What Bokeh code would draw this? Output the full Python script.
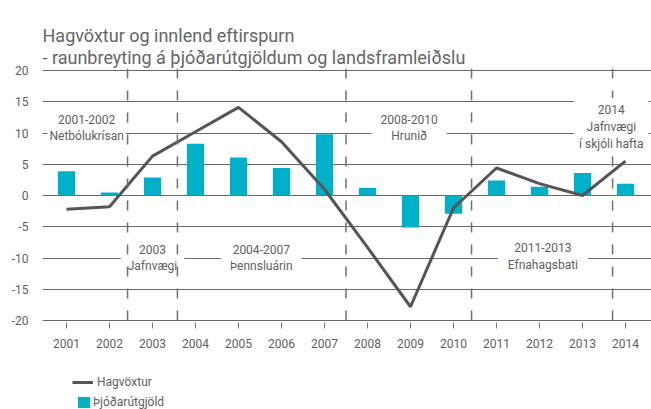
from bokeh.plotting import figure
from bokeh.layouts import column
from bokeh.models import (Range1d, FixedTicker, Label, Span, Legend, LegendItem, Title)
from bokeh.embed import file_html
from bokeh.resources import INLINE

# ---- data ----
years = [2001, 2002, 2003, 2004, 2005, 2006, 2007, 2008, 2009, 2010, 2011, 2012, 2013, 2014]
year_labels = [str(y) for y in years]
hagvoxtur = [-2.2, -1.8, 6.3, 10.2, 14.1, 8.6, 1.0, -8.3, -17.8, -2.0, 4.4, 1.9, 0.0, 5.5]
thjodarutgjold = [3.9, 0.5, 2.9, 8.3, 6.1, 4.4, 9.8, 1.2, -5.1, -2.9, 2.4, 1.4, 3.6, 1.9]
y_ticks = [-20, -15, -10, -5, 0, 5, 10, 15, 20]
y_tick_labels = ["-20", "-15", "-10", "-5", "0", "5", "10", "15", "20"]
period_bounds = [2002.42, 2003.58, 2007.5, 2010.42, 2013.7]
period_texts = ["2001-2002\nNetbólukrísan", "2003\nJafnvægi", "2004-2007\nÞennsluárin",
                "2008-2010\nHrunið", "2011-2013\nEfnahagsbati", "2014\nJafnvægi\ní skjóli hafta"]
period_x = [2001.47, 2003.0, 2005.53, 2008.97, 2012.08, 2013.67]
period_y = [10.8, -10.0, -10.0, 10.8, -9.7, 11.0]
title1 = "Hagvöxtur og innlend eftirspurn"
title2 = "- raunbreyting á þjóðarútgjöldum og landsframleiðslu"
legend_labels = ["Hagvöxtur", "Þjóðarútgjöld"]

FONT = "Roboto"
GREY = "#5f5f5f"
TEAL = "#00AFC8"
LINE = "#555555"

p = figure(width=651, height=360, x_range=Range1d(2000.442, 2014.605),
           y_range=Range1d(-20.32, 20.32), output_backend="svg", toolbar_location=None,
           min_border_left=42, min_border_right=0, min_border_top=68, min_border_bottom=38,
           outline_line_color=None, title=None)

t = Title(text=title1 + "\n" + title2, text_font=FONT, text_font_size="18px",
          text_font_style="normal", text_color="#666666", text_line_height=1.09,
          standoff=0, offset=0)
p.add_layout(t, "above")

# axes
p.xaxis.ticker = FixedTicker(ticks=years)
p.xaxis.major_label_overrides = {y: l for y, l in zip(years, year_labels)}
p.xaxis.axis_line_color = None
p.xaxis.major_tick_out = 6
p.xaxis.major_tick_in = 0
p.xaxis.major_tick_line_color = "#777777"
p.xaxis.minor_tick_line_color = None
p.xaxis.major_label_standoff = 10
p.xaxis.major_label_text_font = FONT
p.xaxis.major_label_text_font_size = "12px"
p.xaxis.major_label_text_color = GREY

p.yaxis.ticker = FixedTicker(ticks=y_ticks)
p.yaxis.major_label_overrides = {v: l for v, l in zip(y_ticks, y_tick_labels)}
p.yaxis.axis_line_color = None
p.yaxis.major_tick_line_color = None
p.yaxis.minor_tick_line_color = None
p.yaxis.major_tick_out = 0
p.yaxis.major_tick_in = 0
p.yaxis.major_label_standoff = 14
p.yaxis.major_label_text_font = FONT
p.yaxis.major_label_text_font_size = "12px"
p.yaxis.major_label_text_color = GREY

p.xgrid.grid_line_color = None
p.ygrid.ticker = FixedTicker(ticks=y_ticks)
p.ygrid.grid_line_color = "#6a6a6a"
p.ygrid.grid_line_width = 1

bars = p.vbar(x=years, top=thjodarutgjold, bottom=0, width=0.4, fill_color=TEAL, line_color=None)
line = p.line(years, hagvoxtur, line_color=LINE, line_width=3)

def dashed(x):
    return Span(location=x, dimension="height", line_color="#707070", line_width=1.5,
                line_dash="10 12")

# the 2014 boundary sits behind its label
p.add_layout(dashed(period_bounds[4]))
pads = [dict(x=2, y=4), dict(x=7, y=4), dict(x=9, y=4), dict(x=9, y=4), dict(x=10, y=4), dict(x=5, y=5)]
for txt, x, y, pad in zip(period_texts, period_x, period_y, pads):
    p.add_layout(Label(x=x, y=y, text=txt, text_align="center", text_baseline="middle",
                       text_font=FONT, text_font_size="12px", text_color=GREY,
                       text_line_height=1.2, background_fill_color="white", padding=pad))
for b in period_bounds[:4]:
    p.add_layout(dashed(b))

# ---- legend strip under the chart ----
p2 = figure(width=651, height=49, x_range=Range1d(0, 1), y_range=Range1d(0, 1),
            output_backend="svg", toolbar_location=None, min_border=0,
            x_axis_type=None, y_axis_type=None, outline_line_color=None)
p2.grid.visible = False
# legend proxies: the same series, outside this strip's visible ranges
proxy_line = p2.line(x=years, y=hagvoxtur, line_color=LINE, line_width=3)
proxy_bar = p2.vbar(x=years, top=thjodarutgjold, bottom=0, width=0.4,
                    fill_color=TEAL, line_color=None)

common = dict(glyph_height=14, label_height=14, padding=0, margin=0, spacing=0,
              border_line_color=None, background_fill_alpha=0,
              label_text_font=FONT, label_text_font_size="12px", label_text_color=GREY)
leg1 = Legend(items=[LegendItem(label=legend_labels[0], renderers=[proxy_line])],
              location=(30, 20), glyph_width=21, label_standoff=4, **common)
leg2 = Legend(items=[LegendItem(label=legend_labels[1], renderers=[proxy_bar])],
              location=(34, 0), glyph_width=15, label_standoff=2, **common)
p2.add_layout(leg1)
p2.add_layout(leg2)

layout = column(p, p2, spacing=0)
open("out.html", "w").write(file_html(layout, INLINE))
